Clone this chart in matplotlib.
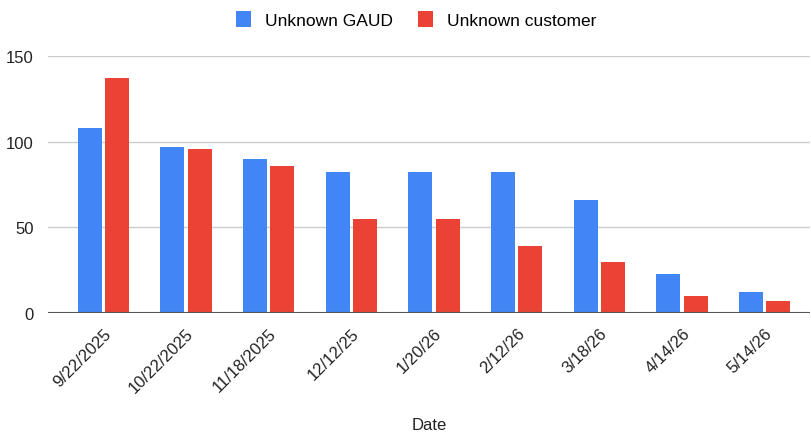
import matplotlib.pyplot as plt
import numpy as np

plt.rcParams['font.family'] = ['Liberation Sans', 'DejaVu Sans']

dates = ['9/22/2025', '10/22/2025', '11/18/2025', '12/12/25', '1/20/26',
         '2/12/26', '3/18/26', '4/14/26', '5/14/26']
unknown_gaud = [108, 97, 90, 82, 82, 82, 66, 23, 12]
unknown_customer = [137, 96, 86, 55, 55, 39, 30, 10, 7]

blue = '#4285F4'
red = '#EA4335'

fig = plt.figure(figsize=(8.11, 4.39), dpi=100)
ax = fig.add_axes([0.059, 0.285, 0.94, 0.585])

x = np.arange(len(dates))
w = 0.29
ax.bar(x - 0.165, unknown_gaud, w, color=blue, label='Unknown GAUD', zorder=3)
ax.bar(x + 0.165, unknown_customer, w, color=red, label='Unknown customer', zorder=3)

ax.set_ylim(0, 150)
ax.set_xlim(-0.67, 8.55)
ax.set_yticks([0, 50, 100, 150])
ax.yaxis.grid(True, color='#cccccc', linewidth=1, zorder=0)
ax.axhline(0, color='#555555', linewidth=1.5, zorder=4)
for s in ax.spines.values():
    s.set_visible(False)
ax.tick_params(axis='both', length=0, labelsize=12, colors='#222222')
ax.tick_params(axis='y', pad=10)
ax.set_xticks(x)
ax.set_xticklabels(dates, rotation=45, ha='right', rotation_mode='anchor')
ax.tick_params(axis='x', pad=9)
ax.set_xlabel('Date', fontsize=12, color='#222222', labelpad=16)

fig.legend(loc='upper center', bbox_to_anchor=(0.513, 1.008), ncol=2, frameon=False,
           fontsize=12.5, handlelength=0.9, handleheight=1.0, columnspacing=1.4,
           handletextpad=0.8)

fig.savefig('out.png', dpi=100)
